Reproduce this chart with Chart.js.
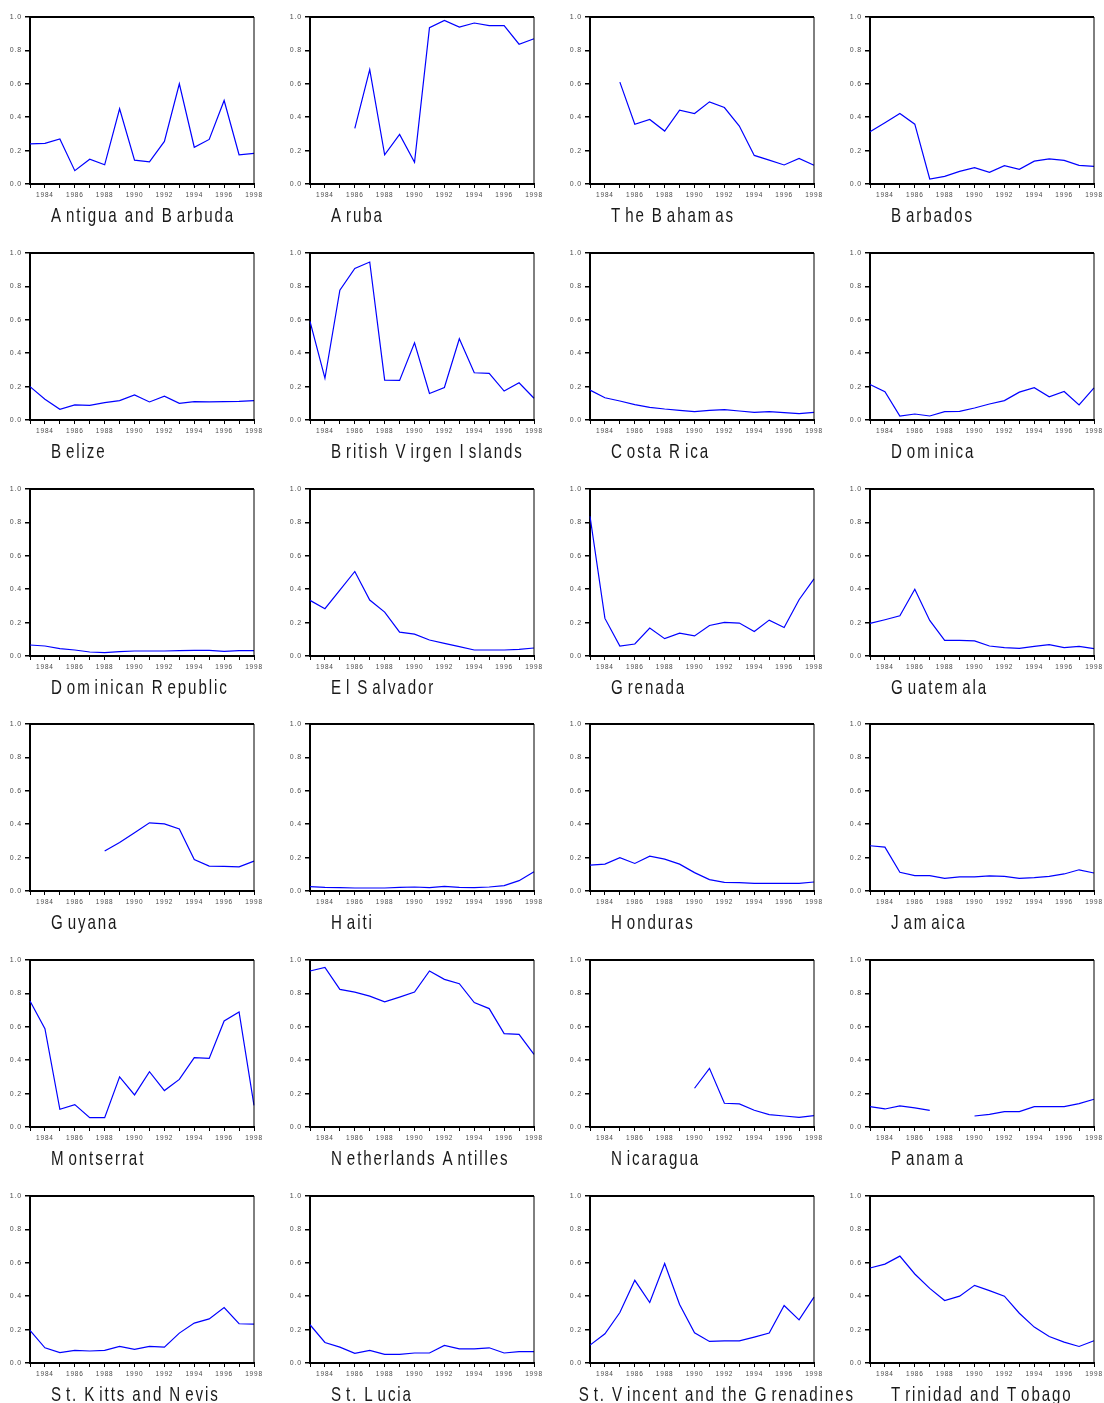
<!DOCTYPE html>
<html>
<head>
<meta charset="utf-8">
<script src="https://cdn.jsdelivr.net/npm/chart.js@4/dist/chart.umd.min.js"></script>
<style>
  html, body { margin: 0; padding: 0; background: #fff; }
  #grid { position: relative; width: 1104px; height: 1403px; overflow: hidden; }
  #grid canvas { position: absolute; }
</style>
</head>
<body>
<div id="grid"></div>
<script>
const years = ['1983','1984','1985','1986','1987','1988','1989','1990','1991','1992','1993','1994','1995','1996','1997','1998'];
const yearLabels = ['1984','1986','1988','1990','1992','1994','1996','1998'];

// one series per country, 1983..1998 (null = no data)
const antigua     = [0.24, 0.243, 0.27, 0.08, 0.148, 0.115, 0.45, 0.143, 0.133, 0.255, 0.60, 0.22, 0.267, 0.50, 0.175, 0.183];
const aruba       = [null, null, null, 0.333, 0.685, 0.175, 0.297, 0.13, 0.936, 0.98, 0.94, 0.964, 0.948, 0.948, 0.837, 0.87];
const bahamas     = [null, null, 0.61, 0.358, 0.386, 0.317, 0.442, 0.422, 0.492, 0.458, 0.347, 0.171, 0.143, 0.114, 0.153, 0.112];
const barbados    = [0.313, 0.367, 0.422, 0.358, 0.03, 0.046, 0.076, 0.098, 0.07, 0.11, 0.088, 0.137, 0.151, 0.141, 0.112, 0.106];
const belize      = [0.2, 0.124, 0.064, 0.09, 0.088, 0.104, 0.116, 0.15, 0.108, 0.143, 0.1, 0.11, 0.108, 0.11, 0.112, 0.116];
const bvi         = [0.59, 0.25, 0.777, 0.908, 0.946, 0.239, 0.237, 0.462, 0.159, 0.195, 0.486, 0.283, 0.279, 0.173, 0.223, 0.13];
const costaRica   = [0.179, 0.133, 0.114, 0.092, 0.076, 0.066, 0.058, 0.05, 0.058, 0.062, 0.054, 0.046, 0.05, 0.044, 0.038, 0.046];
const dominica    = [0.213, 0.169, 0.024, 0.036, 0.024, 0.05, 0.052, 0.072, 0.096, 0.116, 0.167, 0.193, 0.139, 0.171, 0.09, 0.193];
const domRep      = [0.066, 0.06, 0.044, 0.036, 0.024, 0.02, 0.026, 0.03, 0.03, 0.03, 0.032, 0.034, 0.034, 0.028, 0.032, 0.032];
const elSalvador  = [0.333, 0.283, 0.394, 0.506, 0.335, 0.263, 0.143, 0.131, 0.096, 0.076, 0.056, 0.036, 0.036, 0.036, 0.04, 0.048];
const grenada     = [0.837, 0.225, 0.06, 0.072, 0.167, 0.104, 0.137, 0.12, 0.183, 0.201, 0.197, 0.147, 0.215, 0.171, 0.337, 0.462];
const guatemala   = [0.195, 0.217, 0.241, 0.4, 0.213, 0.094, 0.094, 0.09, 0.06, 0.05, 0.046, 0.058, 0.068, 0.05, 0.058, 0.044];
const guyana      = [null, null, null, null, null, 0.239, 0.291, 0.349, 0.408, 0.402, 0.371, 0.189, 0.149, 0.147, 0.145, 0.179];
const haiti       = [0.026, 0.022, 0.02, 0.018, 0.018, 0.018, 0.022, 0.024, 0.02, 0.028, 0.022, 0.02, 0.024, 0.032, 0.062, 0.115];
const honduras    = [0.155, 0.161, 0.199, 0.165, 0.209, 0.191, 0.161, 0.11, 0.068, 0.052, 0.05, 0.046, 0.046, 0.046, 0.046, 0.054];
const jamaica     = [0.271, 0.263, 0.112, 0.092, 0.092, 0.076, 0.084, 0.084, 0.09, 0.088, 0.076, 0.08, 0.088, 0.102, 0.127, 0.108];
const montserrat  = [0.755, 0.589, 0.106, 0.134, 0.056, 0.056, 0.3, 0.192, 0.331, 0.218, 0.285, 0.415, 0.411, 0.635, 0.689, 0.13];
const netherAnt   = [0.934, 0.956, 0.824, 0.808, 0.784, 0.75, 0.778, 0.808, 0.934, 0.884, 0.858, 0.745, 0.709, 0.559, 0.555, 0.435];
const nicaragua   = [null, null, null, null, null, null, null, 0.232, 0.351, 0.142, 0.138, 0.1, 0.074, 0.066, 0.058, 0.068];
const panama      = [0.122, 0.108, 0.126, 0.114, 0.1, null, null, 0.066, 0.076, 0.092, 0.092, 0.122, 0.122, 0.122, 0.14, 0.166];
const stKitts     = [0.195, 0.091, 0.062, 0.076, 0.072, 0.076, 0.1, 0.082, 0.1, 0.095, 0.179, 0.239, 0.264, 0.332, 0.235, 0.233];
const stLucia     = [0.229, 0.123, 0.095, 0.058, 0.076, 0.052, 0.052, 0.06, 0.06, 0.105, 0.085, 0.085, 0.091, 0.06, 0.068, 0.068];
const stVincent   = [0.107, 0.175, 0.302, 0.495, 0.362, 0.596, 0.35, 0.181, 0.129, 0.133, 0.133, 0.155, 0.179, 0.344, 0.258, 0.394];
const trinidad    = [0.569, 0.592, 0.64, 0.533, 0.447, 0.374, 0.4, 0.465, 0.433, 0.4, 0.298, 0.215, 0.159, 0.125, 0.099, 0.133];

const countries = [
  'Antigua and Barbuda', 'Aruba', 'The Bahamas', 'Barbados',
  'Belize', 'British Virgen Islands', 'Costa Rica', 'Dominica',
  'Dominican Republic', 'El Salvador', 'Grenada', 'Guatemala',
  'Guyana', 'Haiti', 'Honduras', 'Jamaica',
  'Montserrat', 'Netherlands Antilles', 'Nicaragua', 'Panama',
  'St. Kitts and Nevis', 'St. Lucia', 'St. Vincent and the Grenadines', 'Trinidad and Tobago'
];
const series = [
  antigua, aruba, bahamas, barbados,
  belize, bvi, costaRica, dominica,
  domRep, elSalvador, grenada, guatemala,
  guyana, haiti, honduras, jamaica,
  montserrat, netherAnt, nicaragua, panama,
  stKitts, stLucia, stVincent, trinidad
];

const colLeft = [0, 280, 560, 840];
const rowTop = [0, 236, 472, 707, 943, 1179];
const sans = '"Liberation Sans", Arial, sans-serif';

// condensed, loosely spaced caption like the old plotting program
function drawCaption(ctx, text, right, left, baseline) {
  const squeeze = 0.72, gap = 1.9, wide = 3;
  ctx.font = '21px ' + sans;
  const adv = [...text].map(ch => {
    let w = ctx.measureText(ch).width * squeeze + gap;
    if (/[A-Z]/.test(ch) || ch === 'm') w += wide;
    return w;
  });
  const total = adv.reduce((s, w) => s + w, 0) - gap;
  let x = Math.min(left + 21, right + 39 - total);
  [...text].forEach((ch, k) => {
    ctx.save();
    ctx.translate(x, baseline);
    ctx.scale(squeeze, 1);
    ctx.fillText(ch, 0, 0);
    ctx.restore();
    x += adv[k];
  });
}

const panelPlugin = {
  id: 'panel',
  beforeDraw(chart) {
    chart.ctx.letterSpacing = '0.8px';
  },
  afterDraw(chart, args, opts) {
    const ctx = chart.ctx;
    const a = chart.chartArea;
    ctx.save();
    ctx.letterSpacing = '0px';
    ctx.strokeStyle = '#000';
    ctx.lineWidth = 2;
    ctx.beginPath();
    ctx.moveTo(a.left, a.top);
    ctx.lineTo(a.right, a.top);
    ctx.stroke();
    ctx.lineWidth = 1;
    ctx.beginPath();
    ctx.moveTo(a.right, a.top);
    ctx.lineTo(a.right, a.bottom);
    ctx.stroke();

    ctx.fillStyle = '#1a1a1a';
    ctx.textBaseline = 'alphabetic';
    drawCaption(ctx, opts.title, a.right, a.left, a.bottom + 38);
    ctx.restore();
  }
};

const grid = document.getElementById('grid');

countries.forEach((name, i) => {
  const canvas = document.createElement('canvas');
  canvas.width = 300;
  canvas.height = 236;
  canvas.style.left = colLeft[i % 4] + 'px';
  canvas.style.top = rowTop[Math.floor(i / 4)] + 'px';
  grid.appendChild(canvas);

  new Chart(canvas, {
    type: 'line',
    data: {
      labels: years,
      datasets: [{
        data: series[i],
        borderColor: '#0000ff',
        borderWidth: 1.2,
        pointRadius: 0,
        tension: 0,
        spanGaps: false,
        fill: false
      }]
    },
    options: {
      responsive: false,
      animation: false,
      events: [],
      layout: { padding: { top: 17, right: 46, bottom: 30, left: 0 } },
      plugins: {
        legend: { display: false },
        tooltip: { enabled: false },
        panel: { title: name }
      },
      scales: {
        x: {
          offset: false,
          grid: { drawOnChartArea: false, drawTicks: true, tickLength: 4, color: '#000', lineWidth: 1, offset: false },
          border: { display: true, color: '#000', width: 2 },
          ticks: {
            autoSkip: false, maxRotation: 0, padding: 3, color: '#4a4a4a',
            font: { family: sans, size: 6.5 },
            callback: (v, idx) => yearLabels.includes(years[idx]) ? years[idx] : ''
          },
          afterFit: s => { s.height = 22; }
        },
        y: {
          min: 0, max: 1,
          grid: { drawOnChartArea: false, drawTicks: true, tickLength: 5, color: '#000', lineWidth: 1.5 },
          border: { display: true, color: '#000', width: 2 },
          ticks: {
            stepSize: 0.2, padding: 3, color: '#4a4a4a',
            font: { family: sans, size: 7 },
            callback: v => Number(v).toFixed(1)
          },
          afterFit: s => { s.width = 30; }
        }
      }
    },
    plugins: [panelPlugin]
  });
});
</script>
</body>
</html>
